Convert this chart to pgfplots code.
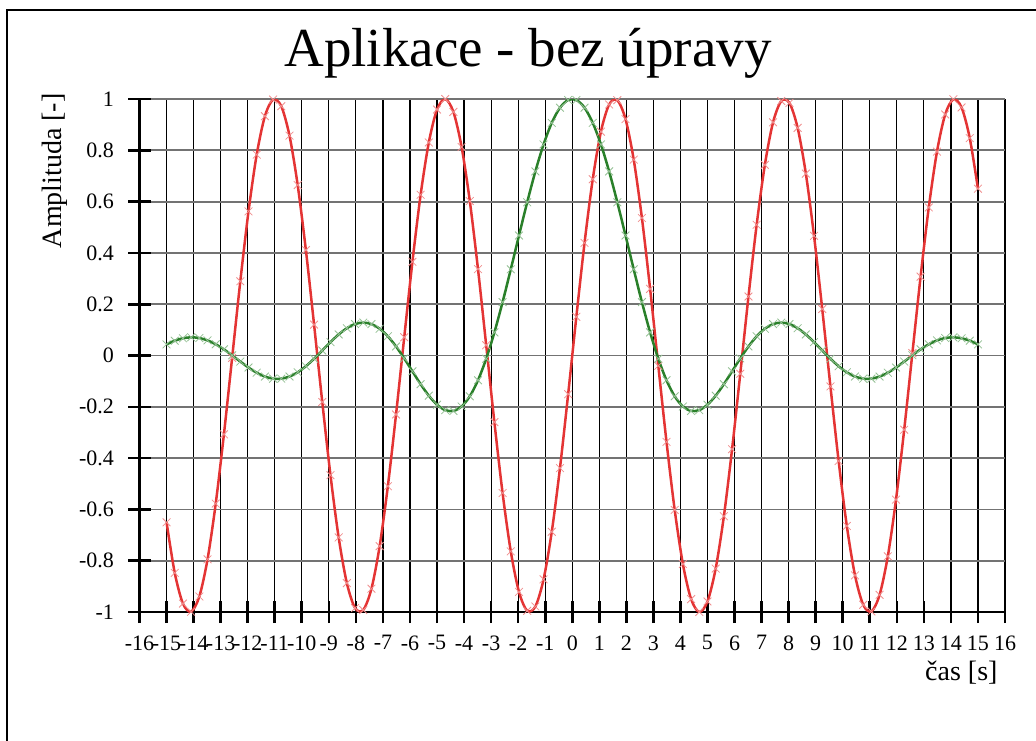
\documentclass[border=0pt]{standalone}
\usepackage{fontspec}
\setmainfont{Liberation Serif}
\usepackage{pgfplots}
\pgfplotsset{compat=1.18}
\usepackage{pgfplotstable}
\definecolor{cred}{RGB}{228,52,52}
\definecolor{cgreen}{RGB}{42,128,42}
\pgfplotstableread{
x s c
-15.0000 -0.6503 0.0434
-14.6970 -0.8474 0.0577
-14.3939 -0.9672 0.0672
-14.0909 -0.9989 0.0709
-13.7879 -0.9396 0.0681
-13.4848 -0.7947 0.0589
-13.1818 -0.5773 0.0438
-12.8788 -0.3074 0.0239
-12.5758 -0.0094 0.0007
-12.2727 0.2894 -0.0236
-11.9697 0.5619 -0.0469
-11.6667 0.7831 -0.0671
-11.3636 0.9330 -0.0821
-11.0606 0.9979 -0.0902
-10.7576 0.9718 -0.0903
-10.4545 0.8572 -0.0820
-10.1515 0.6644 -0.0655
-9.8485 0.4111 -0.0417
-9.5455 0.1204 -0.0126
-9.2424 -0.1813 0.0196
-8.9394 -0.4665 0.0522
-8.6364 -0.7092 0.0821
-8.3333 -0.8873 0.1065
-8.0303 -0.9845 0.1226
-7.7273 -0.9920 0.1284
-7.4242 -0.9091 0.1224
-7.1212 -0.7433 0.1044
-6.8182 -0.5098 0.0748
-6.5152 -0.2299 0.0353
-6.2121 0.0710 -0.0114
-5.9091 0.3654 -0.0618
-5.6061 0.6266 -0.1118
-5.3030 0.8306 -0.1566
-5.0000 0.9589 -0.1918
-4.6970 0.9999 -0.2129
-4.3939 0.9497 -0.2161
-4.0909 0.8130 -0.1987
-3.7879 0.6022 -0.1590
-3.4848 0.3366 -0.0966
-3.1818 0.0402 -0.0126
-2.8788 -0.2598 0.0902
-2.5758 -0.5361 0.2081
-2.2727 -0.7636 0.3360
-1.9697 -0.9215 0.4678
-1.6667 -0.9954 0.5972
-1.3636 -0.9786 0.7177
-1.0606 -0.8727 0.8228
-0.7576 -0.6872 0.9071
-0.4545 -0.4391 0.9659
-0.1515 -0.1509 0.9962
0.1515 0.1509 0.9962
0.4545 0.4391 0.9659
0.7576 0.6872 0.9071
1.0606 0.8727 0.8228
1.3636 0.9786 0.7177
1.6667 0.9954 0.5972
1.9697 0.9215 0.4678
2.2727 0.7636 0.3360
2.5758 0.5361 0.2081
2.8788 0.2598 0.0902
3.1818 -0.0402 -0.0126
3.4848 -0.3366 -0.0966
3.7879 -0.6022 -0.1590
4.0909 -0.8130 -0.1987
4.3939 -0.9497 -0.2161
4.6970 -0.9999 -0.2129
5.0000 -0.9589 -0.1918
5.3030 -0.8306 -0.1566
5.6061 -0.6266 -0.1118
5.9091 -0.3654 -0.0618
6.2121 -0.0710 -0.0114
6.5152 0.2299 0.0353
6.8182 0.5098 0.0748
7.1212 0.7433 0.1044
7.4242 0.9091 0.1224
7.7273 0.9920 0.1284
8.0303 0.9845 0.1226
8.3333 0.8873 0.1065
8.6364 0.7092 0.0821
8.9394 0.4665 0.0522
9.2424 0.1813 0.0196
9.5455 -0.1204 -0.0126
9.8485 -0.4111 -0.0417
10.1515 -0.6644 -0.0655
10.4545 -0.8572 -0.0820
10.7576 -0.9718 -0.0903
11.0606 -0.9979 -0.0902
11.3636 -0.9330 -0.0821
11.6667 -0.7831 -0.0671
11.9697 -0.5619 -0.0469
12.2727 -0.2894 -0.0236
12.5758 0.0094 0.0007
12.8788 0.3074 0.0239
13.1818 0.5773 0.0438
13.4848 0.7947 0.0589
13.7879 0.9396 0.0681
14.0909 0.9989 0.0709
14.3939 0.9672 0.0672
14.6970 0.8474 0.0577
15.0000 0.6503 0.0434
}\data
\begin{document}
\begin{tikzpicture}[x=1pt,y=1pt]
\path[use as bounding box] (0,0) rectangle (1036,740);
\draw[line width=2pt] (7,730) rectangle (1050,-20);
\node[anchor=base, font=\fontsize{55}{60}\selectfont, inner sep=0pt] at (528,673) {Aplikace - bez úpravy};
\begin{axis}[
  at={(139.5pt,128pt)}, anchor=south west, scale only axis,
  width=865.5pt, height=513pt,
  xmin=-16, xmax=16, ymin=-1, ymax=1,
  axis lines*=left,
  axis line style={line width=2.6pt, black},
  xtick={-16,-15,...,16},
  xticklabels={-16,-15,-14,-13,-12,-11,-10,-9,-8,-7,-6,-5,-4,-3,-2,-1,0,1,2,3,4,5,6,7,8,9,10,11,12,13,14,15,16},
  ytick={-1,-0.8,-0.6,-0.4,-0.2,0,0.2,0.4,0.6,0.8,1},
  yticklabels={-1,-0.8,-0.6,-0.4,-0.2,0,0.2,0.4,0.6,0.8,1},
  tick align=center,
  major tick length=22pt,
  tick style={line width=2.6pt, black},
  grid=major,
  x grid style={black, line width=1.2pt},
  y grid style={black!55, line width=1.8pt},
  ticklabel style={font=\fontsize{22}{26}\selectfont},
  xticklabel style={yshift=-9pt},
  yticklabel style={xshift=-11pt},
  label style={font=\fontsize{28}{32}\selectfont},
  xlabel={čas [s]},
  xlabel style={at={(axis description cs:0.9954,-0.119)}, anchor=east},
  ylabel={Amplituda [-]},
  ylabel style={at={(axis description cs:-0.0976,0.86)}, anchor=center},
]
\addplot[only marks, mark=x, mark size=5.5pt, mark options={cred!55, line width=0.8pt}] table[x=x,y=s]{\data};
\addplot[only marks, mark=x, mark size=5.5pt, mark options={cgreen!50, line width=0.8pt}] table[x=x,y=c]{\data};
\addplot[cred, line width=2.5pt, smooth, no marks] table[x=x,y=s]{\data};
\addplot[cgreen, line width=2.5pt, smooth, no marks] table[x=x,y=c]{\data};
\end{axis}
\end{tikzpicture}
\end{document}
